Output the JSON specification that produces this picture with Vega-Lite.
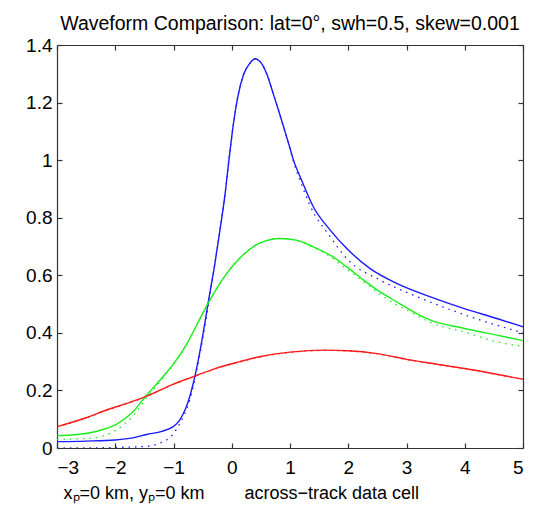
{
  "$schema": "https://vega.github.io/schema/vega-lite/v6.json",
  "width": 466,
  "height": 403,
  "autosize": {"type": "none"},
  "padding": {"left": 57, "top": 45, "right": 14, "bottom": 61},
  "background": "white",
  "title": {
    "text": "Waveform Comparison: lat=0°, swh=0.5, skew=0.001",
    "font": "Liberation Sans",
    "fontSize": 19.5,
    "fontWeight": "normal",
    "color": "black",
    "anchor": "middle",
    "offset": 2
  },
  "config": {
    "view": {"stroke": null},
    "axis": {
      "grid": false,
      "domainColor": "#333333",
      "domainWidth": 1.2,
      "tickColor": "#333333",
      "tickWidth": 1.2,
      "tickSize": -5,
      "labelFont": "Liberation Sans",
      "labelFontSize": 19,
      "labelColor": "black",
      "titleFont": "Liberation Sans",
      "titleFontSize": 18,
      "titleFontWeight": "normal",
      "titleColor": "black"
    }
  },
  "datasets": {
    "curves": [
      {"x": -3, "y": 0.022, "s": "blue", "k": "solid"},
      {"x": -2.5, "y": 0.024, "s": "blue", "k": "solid"},
      {"x": -2.0, "y": 0.028, "s": "blue", "k": "solid"},
      {"x": -1.7, "y": 0.035, "s": "blue", "k": "solid"},
      {"x": -1.46, "y": 0.047, "s": "blue", "k": "solid"},
      {"x": -1.2, "y": 0.058, "s": "blue", "k": "solid"},
      {"x": -1.0, "y": 0.075, "s": "blue", "k": "solid"},
      {"x": -0.9, "y": 0.095, "s": "blue", "k": "solid"},
      {"x": -0.83, "y": 0.12, "s": "blue", "k": "solid"},
      {"x": -0.75, "y": 0.16, "s": "blue", "k": "solid"},
      {"x": -0.66, "y": 0.225, "s": "blue", "k": "solid"},
      {"x": -0.58, "y": 0.3, "s": "blue", "k": "solid"},
      {"x": -0.49, "y": 0.4, "s": "blue", "k": "solid"},
      {"x": -0.4, "y": 0.51, "s": "blue", "k": "solid"},
      {"x": -0.29, "y": 0.64, "s": "blue", "k": "solid"},
      {"x": -0.2, "y": 0.76, "s": "blue", "k": "solid"},
      {"x": -0.11, "y": 0.89, "s": "blue", "k": "solid"},
      {"x": -0.06, "y": 0.98, "s": "blue", "k": "solid"},
      {"x": 0.03, "y": 1.128, "s": "blue", "k": "solid"},
      {"x": 0.11, "y": 1.226, "s": "blue", "k": "solid"},
      {"x": 0.2, "y": 1.296, "s": "blue", "k": "solid"},
      {"x": 0.31, "y": 1.336, "s": "blue", "k": "solid"},
      {"x": 0.4, "y": 1.352, "s": "blue", "k": "solid"},
      {"x": 0.47, "y": 1.345, "s": "blue", "k": "solid"},
      {"x": 0.53, "y": 1.33, "s": "blue", "k": "solid"},
      {"x": 0.6, "y": 1.3, "s": "blue", "k": "solid"},
      {"x": 0.71, "y": 1.232, "s": "blue", "k": "solid"},
      {"x": 0.8, "y": 1.175, "s": "blue", "k": "solid"},
      {"x": 0.89, "y": 1.116, "s": "blue", "k": "solid"},
      {"x": 0.98, "y": 1.055, "s": "blue", "k": "solid"},
      {"x": 1.06, "y": 1.0, "s": "blue", "k": "solid"},
      {"x": 1.2, "y": 0.93, "s": "blue", "k": "solid"},
      {"x": 1.4, "y": 0.838, "s": "blue", "k": "solid"},
      {"x": 1.69, "y": 0.757, "s": "blue", "k": "solid"},
      {"x": 1.97, "y": 0.694, "s": "blue", "k": "solid"},
      {"x": 2.37, "y": 0.624, "s": "blue", "k": "solid"},
      {"x": 2.83, "y": 0.572, "s": "blue", "k": "solid"},
      {"x": 3.4, "y": 0.526, "s": "blue", "k": "solid"},
      {"x": 3.98, "y": 0.485, "s": "blue", "k": "solid"},
      {"x": 4.55, "y": 0.45, "s": "blue", "k": "solid"},
      {"x": 5.0, "y": 0.421, "s": "blue", "k": "solid"},

      {"x": -3, "y": 0.0, "s": "blue", "k": "dot"},
      {"x": -2.5, "y": 0.0, "s": "blue", "k": "dot"},
      {"x": -2.0, "y": 0.002, "s": "blue", "k": "dot"},
      {"x": -1.5, "y": 0.005, "s": "blue", "k": "dot"},
      {"x": -1.23, "y": 0.017, "s": "blue", "k": "dot"},
      {"x": -1.0, "y": 0.05, "s": "blue", "k": "dot"},
      {"x": -0.89, "y": 0.086, "s": "blue", "k": "dot"},
      {"x": -0.72, "y": 0.167, "s": "blue", "k": "dot"},
      {"x": -0.6, "y": 0.27, "s": "blue", "k": "dot"},
      {"x": -0.49, "y": 0.39, "s": "blue", "k": "dot"},
      {"x": -0.4, "y": 0.5, "s": "blue", "k": "dot"},
      {"x": -0.29, "y": 0.64, "s": "blue", "k": "dot"},
      {"x": -0.2, "y": 0.76, "s": "blue", "k": "dot"},
      {"x": -0.11, "y": 0.89, "s": "blue", "k": "dot"},
      {"x": -0.06, "y": 0.98, "s": "blue", "k": "dot"},
      {"x": 0.03, "y": 1.128, "s": "blue", "k": "dot"},
      {"x": 0.11, "y": 1.226, "s": "blue", "k": "dot"},
      {"x": 0.2, "y": 1.296, "s": "blue", "k": "dot"},
      {"x": 0.31, "y": 1.336, "s": "blue", "k": "dot"},
      {"x": 0.4, "y": 1.352, "s": "blue", "k": "dot"},
      {"x": 0.47, "y": 1.345, "s": "blue", "k": "dot"},
      {"x": 0.53, "y": 1.33, "s": "blue", "k": "dot"},
      {"x": 0.6, "y": 1.3, "s": "blue", "k": "dot"},
      {"x": 0.71, "y": 1.232, "s": "blue", "k": "dot"},
      {"x": 0.8, "y": 1.175, "s": "blue", "k": "dot"},
      {"x": 0.89, "y": 1.116, "s": "blue", "k": "dot"},
      {"x": 0.98, "y": 1.055, "s": "blue", "k": "dot"},
      {"x": 1.06, "y": 0.995, "s": "blue", "k": "dot"},
      {"x": 1.2, "y": 0.915, "s": "blue", "k": "dot"},
      {"x": 1.34, "y": 0.844, "s": "blue", "k": "dot"},
      {"x": 1.69, "y": 0.734, "s": "blue", "k": "dot"},
      {"x": 1.97, "y": 0.659, "s": "blue", "k": "dot"},
      {"x": 2.54, "y": 0.584, "s": "blue", "k": "dot"},
      {"x": 3.12, "y": 0.531, "s": "blue", "k": "dot"},
      {"x": 3.69, "y": 0.485, "s": "blue", "k": "dot"},
      {"x": 4.26, "y": 0.445, "s": "blue", "k": "dot"},
      {"x": 5.0, "y": 0.4, "s": "blue", "k": "dot"},

      {"x": -3, "y": 0.043, "s": "green", "k": "solid"},
      {"x": -2.7, "y": 0.046, "s": "green", "k": "solid"},
      {"x": -2.43, "y": 0.053, "s": "green", "k": "solid"},
      {"x": -2.2, "y": 0.065, "s": "green", "k": "solid"},
      {"x": -1.98, "y": 0.082, "s": "green", "k": "solid"},
      {"x": -1.7, "y": 0.125, "s": "green", "k": "solid"},
      {"x": -1.46, "y": 0.184, "s": "green", "k": "solid"},
      {"x": -1.2, "y": 0.243, "s": "green", "k": "solid"},
      {"x": -1.0, "y": 0.292, "s": "green", "k": "solid"},
      {"x": -0.77, "y": 0.362, "s": "green", "k": "solid"},
      {"x": -0.6, "y": 0.428, "s": "green", "k": "solid"},
      {"x": -0.4, "y": 0.505, "s": "green", "k": "solid"},
      {"x": -0.11, "y": 0.6, "s": "green", "k": "solid"},
      {"x": 0.14, "y": 0.66, "s": "green", "k": "solid"},
      {"x": 0.48, "y": 0.712, "s": "green", "k": "solid"},
      {"x": 0.83, "y": 0.728, "s": "green", "k": "solid"},
      {"x": 1.11, "y": 0.722, "s": "green", "k": "solid"},
      {"x": 1.4, "y": 0.699, "s": "green", "k": "solid"},
      {"x": 1.69, "y": 0.67, "s": "green", "k": "solid"},
      {"x": 1.97, "y": 0.63, "s": "green", "k": "solid"},
      {"x": 2.26, "y": 0.584, "s": "green", "k": "solid"},
      {"x": 2.54, "y": 0.543, "s": "green", "k": "solid"},
      {"x": 2.83, "y": 0.508, "s": "green", "k": "solid"},
      {"x": 3.12, "y": 0.473, "s": "green", "k": "solid"},
      {"x": 3.4, "y": 0.445, "s": "green", "k": "solid"},
      {"x": 3.98, "y": 0.416, "s": "green", "k": "solid"},
      {"x": 4.55, "y": 0.392, "s": "green", "k": "solid"},
      {"x": 5.0, "y": 0.373, "s": "green", "k": "solid"},

      {"x": -3, "y": 0.03, "s": "green", "k": "dot"},
      {"x": -2.43, "y": 0.034, "s": "green", "k": "dot"},
      {"x": -1.98, "y": 0.063, "s": "green", "k": "dot"},
      {"x": -1.7, "y": 0.11, "s": "green", "k": "dot"},
      {"x": -1.46, "y": 0.175, "s": "green", "k": "dot"},
      {"x": -1.2, "y": 0.238, "s": "green", "k": "dot"},
      {"x": -1.0, "y": 0.29, "s": "green", "k": "dot"},
      {"x": -0.77, "y": 0.362, "s": "green", "k": "dot"},
      {"x": -0.6, "y": 0.428, "s": "green", "k": "dot"},
      {"x": -0.4, "y": 0.505, "s": "green", "k": "dot"},
      {"x": -0.11, "y": 0.6, "s": "green", "k": "dot"},
      {"x": 0.14, "y": 0.66, "s": "green", "k": "dot"},
      {"x": 0.48, "y": 0.712, "s": "green", "k": "dot"},
      {"x": 0.83, "y": 0.728, "s": "green", "k": "dot"},
      {"x": 1.11, "y": 0.721, "s": "green", "k": "dot"},
      {"x": 1.4, "y": 0.697, "s": "green", "k": "dot"},
      {"x": 1.69, "y": 0.665, "s": "green", "k": "dot"},
      {"x": 1.97, "y": 0.622, "s": "green", "k": "dot"},
      {"x": 2.26, "y": 0.578, "s": "green", "k": "dot"},
      {"x": 2.54, "y": 0.535, "s": "green", "k": "dot"},
      {"x": 2.83, "y": 0.498, "s": "green", "k": "dot"},
      {"x": 3.12, "y": 0.467, "s": "green", "k": "dot"},
      {"x": 3.4, "y": 0.437, "s": "green", "k": "dot"},
      {"x": 3.98, "y": 0.404, "s": "green", "k": "dot"},
      {"x": 4.55, "y": 0.369, "s": "green", "k": "dot"},
      {"x": 5.0, "y": 0.353, "s": "green", "k": "dot"},

      {"x": -3, "y": 0.074, "s": "red", "k": "solid"},
      {"x": -2.5, "y": 0.105, "s": "red", "k": "solid"},
      {"x": -2.15, "y": 0.132, "s": "red", "k": "solid"},
      {"x": -1.8, "y": 0.155, "s": "red", "k": "solid"},
      {"x": -1.46, "y": 0.18, "s": "red", "k": "solid"},
      {"x": -1.0, "y": 0.222, "s": "red", "k": "solid"},
      {"x": -0.66, "y": 0.248, "s": "red", "k": "solid"},
      {"x": -0.3, "y": 0.275, "s": "red", "k": "solid"},
      {"x": 0.14, "y": 0.3, "s": "red", "k": "solid"},
      {"x": 0.48, "y": 0.317, "s": "red", "k": "solid"},
      {"x": 1.0, "y": 0.333, "s": "red", "k": "solid"},
      {"x": 1.6, "y": 0.34, "s": "red", "k": "solid"},
      {"x": 2.0, "y": 0.338, "s": "red", "k": "solid"},
      {"x": 2.5, "y": 0.328, "s": "red", "k": "solid"},
      {"x": 3.0, "y": 0.308, "s": "red", "k": "solid"},
      {"x": 3.5, "y": 0.292, "s": "red", "k": "solid"},
      {"x": 4.0, "y": 0.276, "s": "red", "k": "solid"},
      {"x": 4.5, "y": 0.258, "s": "red", "k": "solid"},
      {"x": 5.0, "y": 0.239, "s": "red", "k": "solid"},

      {"x": -3, "y": 0.073, "s": "red", "k": "dot"},
      {"x": -2.5, "y": 0.104, "s": "red", "k": "dot"},
      {"x": -2.15, "y": 0.131, "s": "red", "k": "dot"},
      {"x": -1.8, "y": 0.154, "s": "red", "k": "dot"},
      {"x": -1.46, "y": 0.179, "s": "red", "k": "dot"},
      {"x": -1.0, "y": 0.221, "s": "red", "k": "dot"},
      {"x": -0.66, "y": 0.247, "s": "red", "k": "dot"},
      {"x": -0.3, "y": 0.274, "s": "red", "k": "dot"},
      {"x": 0.14, "y": 0.299, "s": "red", "k": "dot"},
      {"x": 0.48, "y": 0.316, "s": "red", "k": "dot"},
      {"x": 1.0, "y": 0.332, "s": "red", "k": "dot"},
      {"x": 1.6, "y": 0.339, "s": "red", "k": "dot"},
      {"x": 2.0, "y": 0.337, "s": "red", "k": "dot"},
      {"x": 2.5, "y": 0.327, "s": "red", "k": "dot"},
      {"x": 3.0, "y": 0.307, "s": "red", "k": "dot"},
      {"x": 3.5, "y": 0.291, "s": "red", "k": "dot"},
      {"x": 4.0, "y": 0.275, "s": "red", "k": "dot"},
      {"x": 4.5, "y": 0.257, "s": "red", "k": "dot"},
      {"x": 5.0, "y": 0.238, "s": "red", "k": "dot"}
    ]
  },
  "data": {"name": "curves"},
  "layer": [
    {
      "transform": [{"filter": "datum.k === 'dot'"}],
      "mark": {"type": "line", "strokeWidth": 1.3, "strokeDash": [1.5, 5], "interpolate": "monotone", "clip": true},
      "encoding": {
        "x": {
          "field": "x", "type": "quantitative",
          "scale": {"domain": [-3, 5], "nice": false, "zero": false},
          "axis": {"orient": "top", "labels": false, "title": null, "values": [-3, -2, -1, 0, 1, 2, 3, 4, 5]}
        },
        "y": {
          "field": "y", "type": "quantitative",
          "scale": {"domain": [0, 1.4], "nice": false},
          "axis": {"orient": "right", "labels": false, "title": null, "values": [0, 0.2, 0.4, 0.6, 0.8, 1, 1.2, 1.4]}
        },
        "color": {
          "field": "s", "type": "nominal",
          "scale": {"domain": ["blue", "green", "red"], "range": ["#1a1aff", "#1aee1a", "#ff1a1a"]},
          "legend": null
        },
        "detail": {"field": "k"},
        "order": {"field": "x", "type": "quantitative"}
      }
    },
    {
      "transform": [{"filter": "datum.k === 'solid'"}],
      "mark": {"type": "line", "strokeWidth": 1.4, "interpolate": "monotone", "clip": true},
      "encoding": {
        "x": {
          "field": "x", "type": "quantitative",
          "scale": {"domain": [-3, 5], "nice": false, "zero": false},
          "axis": {
            "orient": "bottom",
            "values": [-3, -2, -1, 0, 1, 2, 3, 4, 5],
            "labelPadding": 15,
            "title": "xₚ=0 km, yₚ=0 km\u00a0\u00a0\u00a0\u00a0\u00a0\u00a0\u00a0\u00a0across−track data cell",
            "titleAnchor": "start",
            "titleAlign": "left",
            "titleX": 6,
            "titleY": 50,
            "titleBaseline": "alphabetic"
          }
        },
        "y": {
          "field": "y", "type": "quantitative",
          "scale": {"domain": [0, 1.4], "nice": false},
          "axis": {
            "orient": "left",
            "values": [0, 0.2, 0.4, 0.6, 0.8, 1, 1.2, 1.4],
            "format": "~g",
            "labelPadding": 10,
            "title": null
          }
        },
        "color": {"field": "s", "type": "nominal", "legend": null},
        "detail": {"field": "k"},
        "order": {"field": "x", "type": "quantitative"}
      }
    }
  ]
}
